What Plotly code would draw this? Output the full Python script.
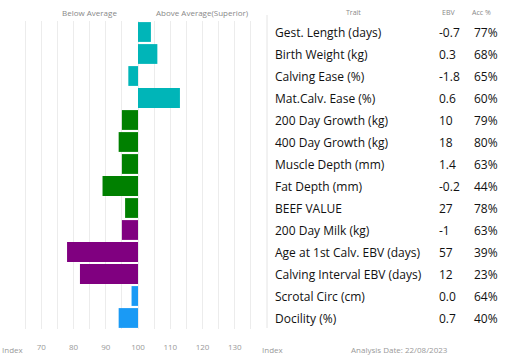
import plotly.graph_objects as go

traits = ["Gest. Length (days)", "Birth Weight (kg)", "Calving Ease (%)", "Mat.Calv. Ease (%)",
          "200 Day Growth (kg)", "400 Day Growth (kg)", "Muscle Depth (mm)", "Fat Depth (mm)",
          "BEEF VALUE", "200 Day Milk (kg)", "Age at 1st Calv. EBV (days)",
          "Calving Interval EBV (days)", "Scrotal Circ (cm)", "Docility (%)"]
index_vals = [104, 106, 97, 113, 95, 94, 95, 89, 96, 95, 78, 82, 98, 94]
ebv = ["-0.7", "0.3", "-1.8", "0.6", "10", "18", "1.4", "-0.2", "27", "-1", "57", "12", "0.0", "0.7"]
acc = ["77%", "68%", "65%", "60%", "79%", "80%", "63%", "44%", "78%", "63%", "39%", "23%", "64%", "40%"]
colors = ["#00b5b8"] * 4 + ["#008000"] * 5 + ["#800080"] * 3 + ["#1a9af5"] * 2
tick_vals = [70, 80, 90, 100, 110, 120, 130]
baseline = 100

W, H = 522, 362
FONT = "Open Sans"

fig = go.Figure()
fig.add_trace(go.Bar(
    y=traits, x=[v - baseline for v in index_vals], base=baseline,
    orientation="h", marker=dict(color=colors, line=dict(width=0)),
    width=0.9, hoverinfo="skip",
))

x0, x1 = 9 / W, 267 / W
ytop, ybot = 1 - 21 / H, 1 - 329 / H

fig.update_layout(
    width=W, height=H, margin=dict(l=0, r=0, t=0, b=0),
    paper_bgcolor="white", plot_bgcolor="white", showlegend=False,
    font=dict(family=FONT, color="#111"),
    xaxis=dict(domain=[x0, x1], range=[60, 140], tickmode="array", tickvals=tick_vals,
               ticktext=[str(t) for t in tick_vals], showgrid=True, gridcolor="#ececec",
               gridwidth=1, zeroline=False, showline=False, ticks="",
               tickfont=dict(size=8, color="#999", family=FONT), ticklabelstandoff=12,
               minor=dict(tickmode="linear", tick0=60, dtick=5, showgrid=True,
                          gridcolor="#ececec", gridwidth=1, ticks="")),
    yaxis=dict(domain=[ybot, ytop], autorange="reversed", showticklabels=False,
               showgrid=False, zeroline=False, showline=False, ticks=""),
    bargap=0.1,
)

ann = []
for t, e, a in zip(traits, ebv, acc):
    ann.append(dict(x=273 / W, xref="paper", y=t, yref="y", text=t, showarrow=False,
                    xanchor="left", font=dict(size=12, color="#111", family=FONT)))
    ann.append(dict(x=437 / W, xref="paper", y=t, yref="y", text=e, showarrow=False,
                    xanchor="left", font=dict(size=12, color="#111", family=FONT)))
    ann.append(dict(x=472 / W, xref="paper", y=t, yref="y", text=a, showarrow=False,
                    xanchor="left", font=dict(size=12, color="#111", family=FONT)))

hdr = dict(size=7, color="#888", family=FONT)
for txt, xp in [("Trait", 353), ("EBV", 448), ("Acc %", 481)]:
    ann.append(dict(x=xp / W, xref="paper", y=1 - 12 / H, yref="paper", text=txt,
                    showarrow=False, xanchor="center", yanchor="middle", font=hdr))
top = dict(size=8, color="#888", family=FONT)
ann.append(dict(x=89 / W, xref="paper", y=1 - 13 / H, yref="paper", text="Below Average",
                showarrow=False, xanchor="center", yanchor="middle", font=top))
ann.append(dict(x=202 / W, xref="paper", y=1 - 13 / H, yref="paper", text="Above Average(Superior)",
                showarrow=False, xanchor="center", yanchor="middle", font=top))
bot = dict(size=8, color="#999", family=FONT)
ann.append(dict(x=0, xref="paper", y=1 - 349 / H, yref="paper", text="Index",
                showarrow=False, xanchor="left", yanchor="middle", font=bot))
ann.append(dict(x=260 / W, xref="paper", y=1 - 349 / H, yref="paper", text="Index",
                showarrow=False, xanchor="left", yanchor="middle", font=bot))
ann.append(dict(x=399 / W, xref="paper", y=1 - 349 / H, yref="paper", text="Analysis Date: 22/08/2023",
                showarrow=False, xanchor="center", yanchor="middle", font=bot))
fig.update_layout(annotations=ann)

fig.add_shape(type="line", xref="paper", yref="paper", x0=267 / W, x1=267 / W,
              y0=1 - 15 / H, y1=1 - 328 / H, line=dict(color="#e4e4e4", width=1))

fig.write_html("out.html", config={"displayModeBar": False, "staticPlot": True},
               post_script="document.body.style.margin='0px';document.body.style.overflow='hidden';")
